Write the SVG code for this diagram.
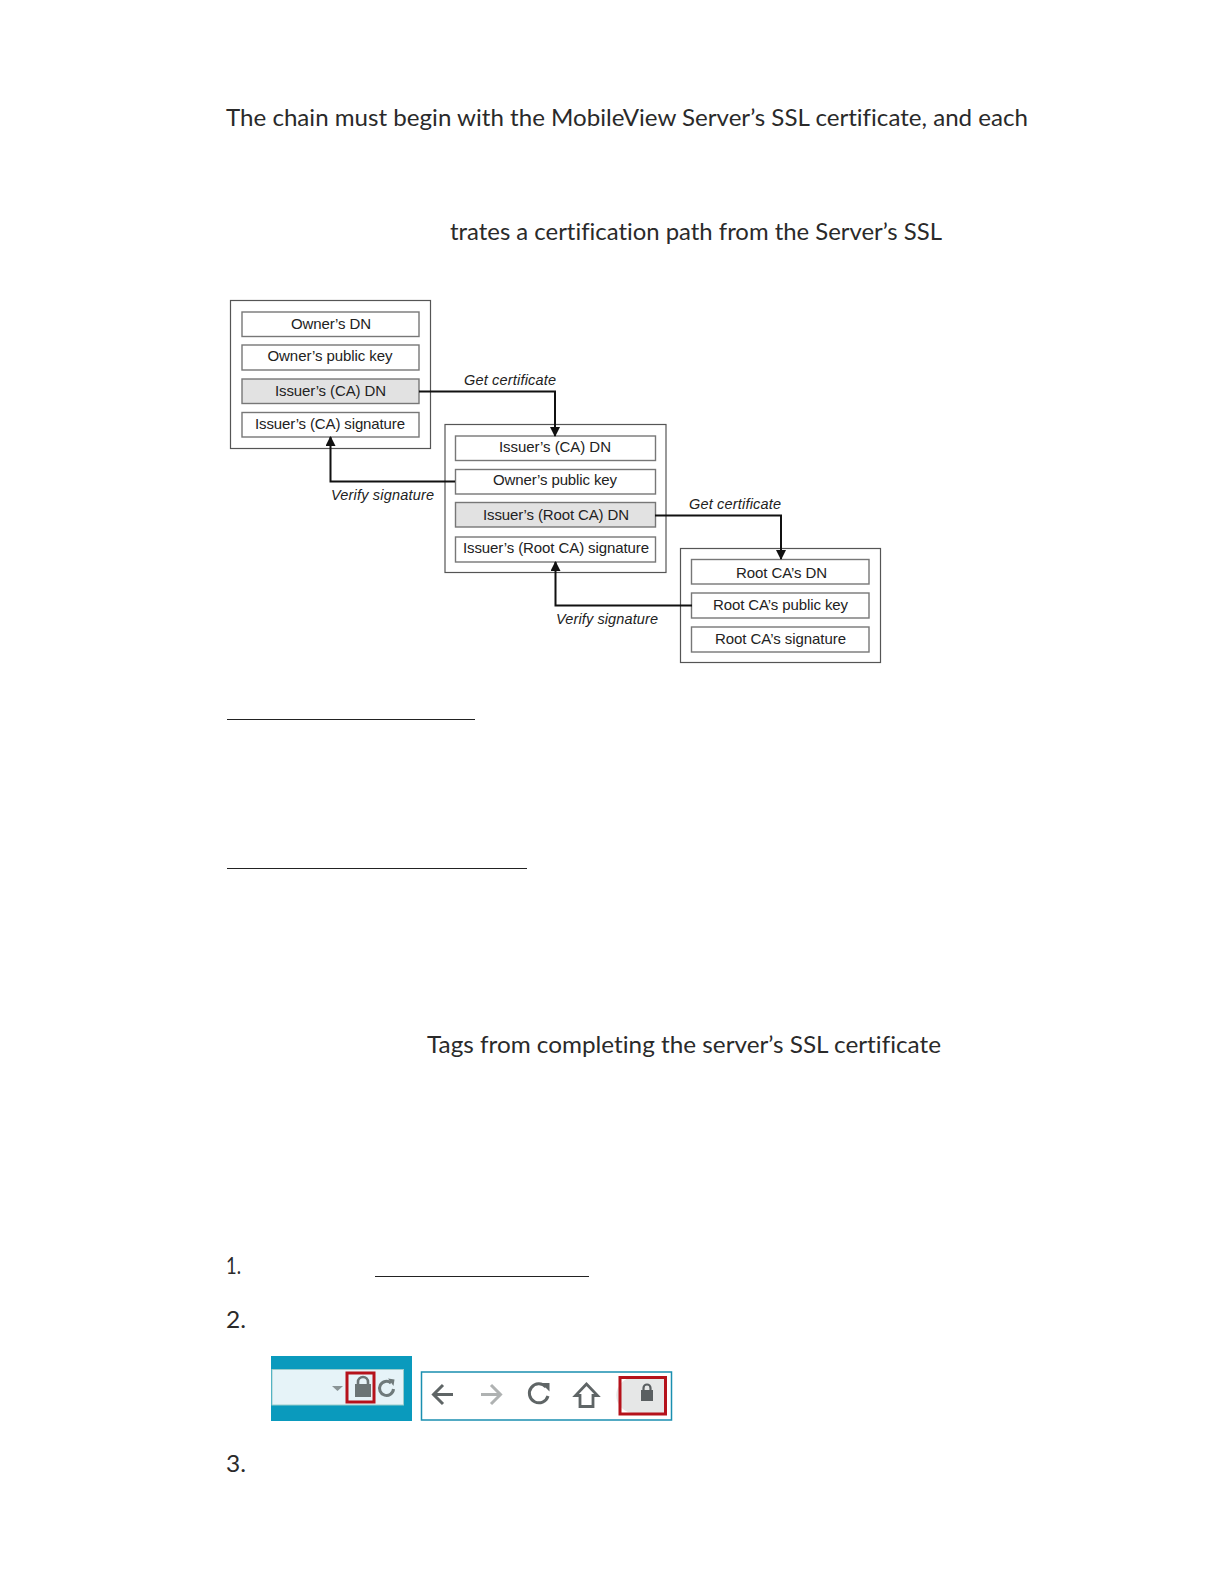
<svg xmlns="http://www.w3.org/2000/svg" width="1224" height="1584" viewBox="0 0 1224 1584">
<style>
.body{font-family:"Lato","Open Sans",sans-serif;font-size:24px;fill:#2a2a2a;font-variant-ligatures:none}
.cert{fill:#fff;stroke:#555;stroke-width:1.2}
.row{fill:#fff;stroke:#777;stroke-width:1.4}
.hl{fill:#e2e2e2;stroke:#777;stroke-width:1.4}
.t{font-family:"Liberation Sans",Arial,sans-serif;font-size:15px;fill:#222;text-anchor:middle}
.i{font-family:"Liberation Sans",Arial,sans-serif;font-size:14.5px;font-style:italic;fill:#222}
.c{fill:none;stroke:#111;stroke-width:2}
.rule{stroke:#222;stroke-width:1}
.red{fill:none;stroke:#b5121b;stroke-width:3}
.ic{fill:none;stroke:#5f6566;stroke-width:3}
</style>
<defs><marker id="a" markerUnits="userSpaceOnUse" markerWidth="10" markerHeight="10" refX="9" refY="5" orient="auto"><path d="M0 0L10 5L0 10Z" fill="#111"/></marker></defs>
<g id="body-text">
<text class="body" x="226" y="126" textLength="802" lengthAdjust="spacingAndGlyphs">The chain must begin with the MobileView Server’s SSL certificate, and each</text>
<text class="body" x="450" y="240" textLength="492" lengthAdjust="spacingAndGlyphs">trates a certification path from the Server’s SSL</text>
<text class="body" x="427" y="1053" textLength="514" lengthAdjust="spacingAndGlyphs">Tags from completing the server’s SSL certificate</text>
<text class="body" x="226" y="1274" textLength="15" lengthAdjust="spacingAndGlyphs">1.</text>
<text class="body" x="226" y="1328" textLength="20" lengthAdjust="spacingAndGlyphs">2.</text>
<text class="body" x="226" y="1472" textLength="20" lengthAdjust="spacingAndGlyphs">3.</text>
<path class="rule" d="M227 719.500H475M227 868.500H527M375 1276.500H589"/>
</g>
<g id="cert1">
<rect class="cert" x="230.500" y="300.500" width="200" height="148"/>
<rect class="row" x="242" y="312" width="177" height="24.500"/><text class="t" x="331" y="329" textLength="80">Owner’s DN</text>
<rect class="row" x="242" y="345" width="177" height="25"/><text class="t" x="330" y="361" textLength="125">Owner’s public key</text>
<rect class="hl" x="242" y="379" width="177" height="24.500"/><text class="t" x="330.500" y="396" textLength="111">Issuer’s (CA) DN</text>
<rect class="row" x="242" y="412.500" width="177" height="24.500"/><text class="t" x="330" y="429" textLength="150">Issuer’s (CA) signature</text>
</g>
<g id="cert2">
<rect class="cert" x="445" y="424.500" width="221" height="148"/>
<rect class="row" x="455.500" y="436" width="200" height="24.500"/><text class="t" x="555" y="452" textLength="112">Issuer’s (CA) DN</text>
<rect class="row" x="455.500" y="469.500" width="200" height="24.500"/><text class="t" x="555" y="485" textLength="124">Owner’s public key</text>
<rect class="hl" x="455.500" y="502.500" width="200" height="24.500"/><text class="t" x="556" y="520" textLength="146">Issuer’s (Root CA) DN</text>
<rect class="row" x="455.500" y="537" width="200" height="25"/><text class="t" x="556" y="553" textLength="186">Issuer’s (Root CA) signature</text>
</g>
<g id="cert3">
<rect class="cert" x="680.500" y="548.500" width="200" height="114"/>
<rect class="row" x="691.500" y="559.500" width="177.500" height="24.500"/><text class="t" x="781.500" y="578" textLength="91">Root CA’s DN</text>
<rect class="row" x="691.500" y="593" width="177.500" height="25"/><text class="t" x="780.500" y="610" textLength="135">Root CA’s public key</text>
<rect class="row" x="691.500" y="627" width="177.500" height="25"/><text class="t" x="780.500" y="644" textLength="131">Root CA’s signature</text>
</g>
<g id="connectors">
<path class="c" marker-end="url(#a)" d="M419 391.500H555V436"/>
<path class="c" marker-end="url(#a)" d="M455 481.500H330.500V437"/>
<path class="c" marker-end="url(#a)" d="M655 515.500H781V559"/>
<path class="c" marker-end="url(#a)" d="M692 605.500H555.500V562"/>
<text class="i" x="464" y="385" textLength="92">Get certificate</text>
<text class="i" x="331" y="500" textLength="103">Verify signature</text>
<text class="i" x="689" y="509" textLength="92">Get certificate</text>
<text class="i" x="556" y="624" textLength="102">Verify signature</text>
</g>
<g id="toolbar-left">
<rect x="271" y="1356" width="141" height="65" fill="#0a9abd"/>
<rect x="272" y="1369.500" width="131.500" height="35.500" fill="#e6f3f8" stroke="#9cc" stroke-width="1"/>
<path d="M332 1386H343L337.500 1391Z" fill="#8a9496"/>
<path d="M355 1397V1384H371V1397Z" fill="#6b7475"/>
<path d="M358 1384V1382A5 5 0 0 1 368 1382V1384" fill="none" stroke="#6b7475" stroke-width="2.600"/>
<rect class="red" x="347" y="1373" width="27" height="29"/>
<path d="M391 1383A7 7 0 1 0 393.500 1389" fill="none" stroke="#6f7a7b" stroke-width="3"/>
<path d="M388 1378.500L394.500 1379.500L393.500 1386Z" fill="#6f7a7b"/>
</g>
<g id="toolbar-right">
<rect x="421.500" y="1372" width="250" height="48" fill="#fff" stroke="#1a8fb0" stroke-width="1.500"/>
<path class="ic" d="M453 1394.500H435M443 1385L433.500 1394.500L443 1404"/>
<path class="ic" stroke-opacity=".5" d="M481 1394.500H500M491 1385L500.500 1394.500L491 1404"/>
<path class="ic" d="M546 1387A9.500 9.500 0 1 0 548 1396"/>
<path d="M541 1383H549.500V1391.500Z" fill="#5f6566"/>
<path d="M586.500 1384L575.500 1395.500H580V1406.500H593V1395.500H597.500Z" fill="none" stroke="#5f6566" stroke-width="2.800"/>
<path d="M634 1377.500H664V1413H634A17 17 0 0 1 634 1377.500Z" fill="#e6e7e7"/>
<path d="M641 1401V1390H653V1401Z" fill="#5a5f61"/>
<path d="M643.500 1390V1388A3.500 3.500 0 0 1 650.500 1388V1390" fill="none" stroke="#5a5f61" stroke-width="2.200"/>
<rect class="red" x="620" y="1377.500" width="45.500" height="36.500"/>
</g>
</svg>
